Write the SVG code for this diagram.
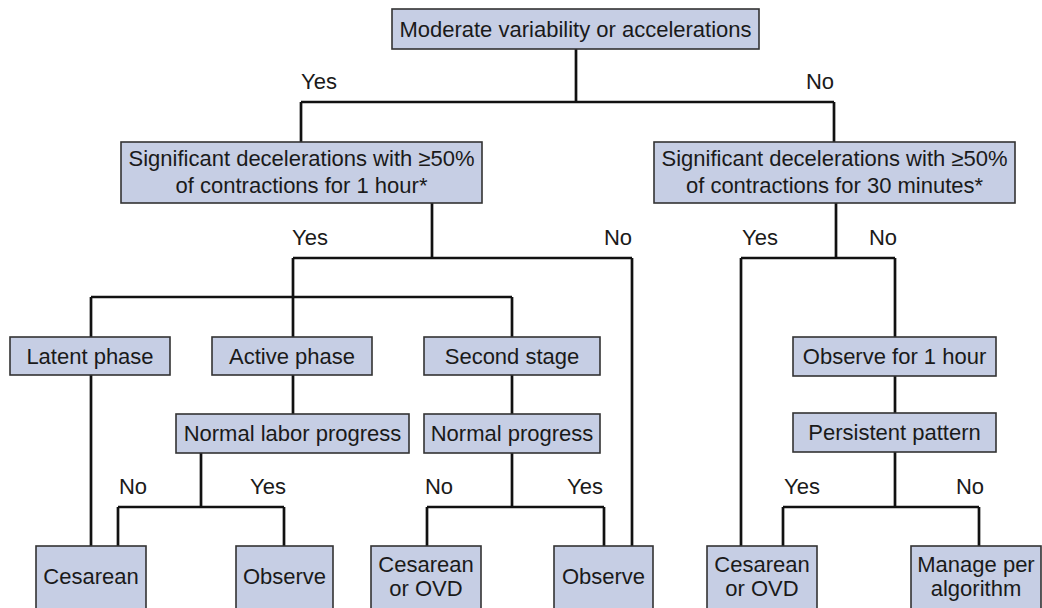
<svg xmlns="http://www.w3.org/2000/svg" width="1042" height="608" viewBox="0 0 1042 608">
  <style>
    .box { fill: #c6cee4; stroke: #333333; stroke-width: 1.6; }
    .t { font-family: "Liberation Sans", Arial, sans-serif; font-size: 22px; fill: #1a1a1a; text-anchor: middle; }
    .lbl { font-family: "Liberation Sans", Arial, sans-serif; font-size: 22px; fill: #1a1a1a; text-anchor: middle; }
    .wire { fill: none; stroke: #111111; stroke-width: 2.7; stroke-linejoin: miter; stroke-linecap: butt; }
  </style>
  <rect width="1042" height="608" fill="#ffffff"/>

  <!-- connectors -->
  <g id="connectors">
    <!-- root split -->
    <path class="wire" d="M576 49 V102 M301 102 H834 M301 102 V142 M834 102 V142"/>
    <!-- left: 1 hour decision -->
    <path class="wire" d="M432 203 V258 M293 258 H632 M632 258 V546"/>
    <path class="wire" d="M293 258 V337 M91 297 H512 M91 297 V337 M512 297 V337"/>
    <!-- latent phase -->
    <path class="wire" d="M91 375 V546"/>
    <!-- active phase -->
    <path class="wire" d="M293 375 V414 M201 453 V507 M118 507 H284 M118 507 V546 M284 507 V546"/>
    <!-- second stage -->
    <path class="wire" d="M512 375 V414 M512 453 V507 M427 507 H604 M427 507 V546 M604 507 V546"/>
    <!-- right: 30 minute decision -->
    <path class="wire" d="M836 203 V258 M741 258 H895 M741 258 V546 M895 258 V337"/>
    <path class="wire" d="M895 376 V413 M895 452 V507 M783 507 H979 M783 507 V546 M979 507 V546"/>
  </g>

  <!-- branch labels -->
  <g id="labels">
    <text class="lbl" x="319" y="89">Yes</text>
    <text class="lbl" x="820" y="89">No</text>
    <text class="lbl" x="310" y="245">Yes</text>
    <text class="lbl" x="618" y="245">No</text>
    <text class="lbl" x="760" y="245">Yes</text>
    <text class="lbl" x="883" y="245">No</text>
    <text class="lbl" x="133" y="494">No</text>
    <text class="lbl" x="268" y="494">Yes</text>
    <text class="lbl" x="439" y="494">No</text>
    <text class="lbl" x="585" y="494">Yes</text>
    <text class="lbl" x="802" y="494">Yes</text>
    <text class="lbl" x="970" y="494">No</text>
  </g>

  <g id="n-root">
    <rect class="box" x="392" y="9" width="367" height="40"/>
    <text class="t" x="575.5" y="37">Moderate variability or accelerations</text>
  </g>

  <g id="n-decel-1h">
    <rect class="box" x="121" y="142" width="361" height="61"/>
    <text class="t" x="301.5" y="166">Significant decelerations with ≥50%</text>
    <text class="t" x="301.5" y="193">of contractions for 1 hour*</text>
  </g>

  <g id="n-decel-30m">
    <rect class="box" x="654" y="142" width="361" height="61"/>
    <text class="t" x="834.5" y="166">Significant decelerations with ≥50%</text>
    <text class="t" x="834.5" y="193">of contractions for 30 minutes*</text>
  </g>

  <g id="n-latent">
    <rect class="box" x="10" y="337" width="160" height="38"/>
    <text class="t" x="90" y="364">Latent phase</text>
  </g>

  <g id="n-active">
    <rect class="box" x="212" y="337" width="160" height="38"/>
    <text class="t" x="292" y="364">Active phase</text>
  </g>

  <g id="n-second">
    <rect class="box" x="424" y="337" width="176" height="38"/>
    <text class="t" x="512" y="364">Second stage</text>
  </g>

  <g id="n-normal-labor">
    <rect class="box" x="176" y="414" width="233" height="39"/>
    <text class="t" x="292.5" y="441">Normal labor progress</text>
  </g>

  <g id="n-normal-progress">
    <rect class="box" x="424" y="414" width="176" height="39"/>
    <text class="t" x="512" y="441">Normal progress</text>
  </g>

  <g id="n-observe-1h">
    <rect class="box" x="793" y="337" width="203" height="39"/>
    <text class="t" x="894.5" y="364">Observe for 1 hour</text>
  </g>

  <g id="n-persistent">
    <rect class="box" x="793" y="413" width="203" height="39"/>
    <text class="t" x="894.5" y="440">Persistent pattern</text>
  </g>

  <g id="n-cesarean">
    <rect class="box" x="36" y="546" width="110" height="70"/>
    <text class="t" x="91" y="584">Cesarean</text>
  </g>

  <g id="n-observe-a">
    <rect class="box" x="236" y="546" width="97" height="70"/>
    <text class="t" x="284.5" y="584">Observe</text>
  </g>

  <g id="n-ces-ovd-a">
    <rect class="box" x="371" y="546" width="110" height="70"/>
    <text class="t" x="426" y="572">Cesarean</text>
    <text class="t" x="426" y="596">or OVD</text>
  </g>

  <g id="n-observe-b">
    <rect class="box" x="554" y="546" width="99" height="70"/>
    <text class="t" x="603.5" y="584">Observe</text>
  </g>

  <g id="n-ces-ovd-b">
    <rect class="box" x="707" y="546" width="110" height="70"/>
    <text class="t" x="762" y="572">Cesarean</text>
    <text class="t" x="762" y="596">or OVD</text>
  </g>

  <g id="n-manage">
    <rect class="box" x="911" y="546" width="130" height="70"/>
    <text class="t" x="976" y="572">Manage per</text>
    <text class="t" x="976" y="596">algorithm</text>
  </g>
</svg>
